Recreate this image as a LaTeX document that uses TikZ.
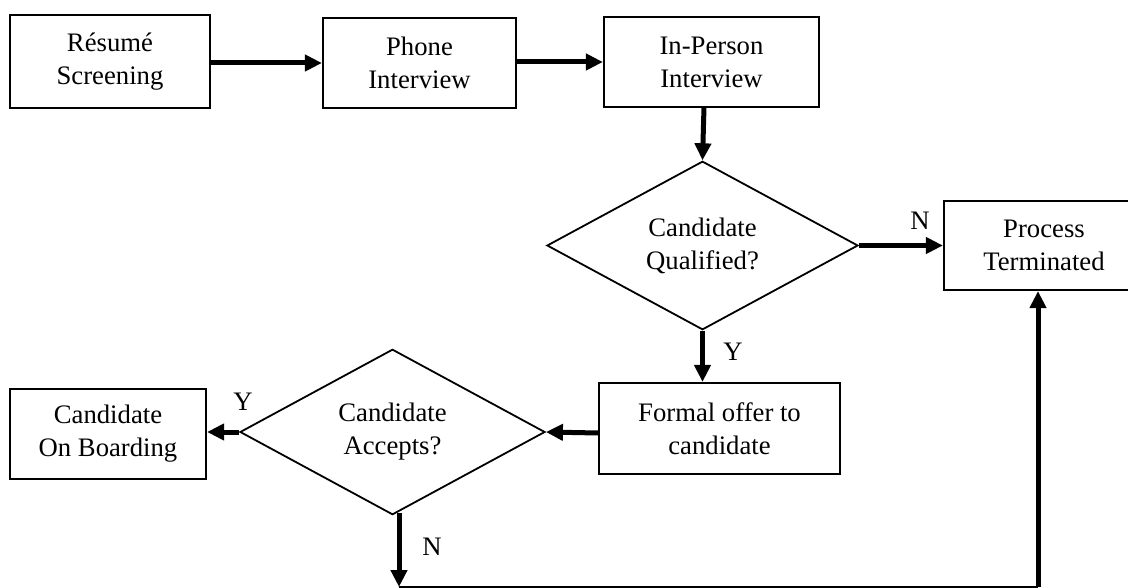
\documentclass[tikz,border=0pt]{standalone}
\usepackage{fontspec}
\setmainfont{Liberation Serif}
\usetikzlibrary{shapes.geometric,arrows.meta}
\begin{document}
\begin{tikzpicture}[x=1pt,y=-1pt,
  every node/.style={font=\fontsize{26.7}{33}\selectfont},
  procbox/.style={draw=black,line width=2.2pt,align=center,inner sep=0pt},
  decision/.style={draw=black,diamond,line width=1.8pt,align=center,inner sep=0pt},
  arr/.style={line width=5pt,-{Triangle[length=17pt,width=16pt]}},
  lbl/.style={inner sep=0pt}]
\useasboundingbox (0,0) rectangle (1128,588);
\clip (0,0) rectangle (1128,588);
\node[procbox,minimum width=200pt,minimum height=93pt] (res) at (110,61.5) {Résumé\\Screening};
\node[procbox,minimum width=193pt,minimum height=90pt] (phone) at (419.5,63) {Phone\\Interview};
\node[procbox,minimum width=215pt,minimum height=90pt] (inp) at (711.5,62) {In-Person\\Interview};
\node[decision,minimum width=311pt,minimum height=161pt] (qual) at (702.5,245.5) {Candidate\\Qualified?};
\node[procbox,minimum width=200pt,minimum height=89pt] (term) at (1044,245.5) {Process\\Terminated};
\node[procbox,minimum width=241pt,minimum height=91pt] (offer) at (719.5,428.5) {Formal offer to\\candidate};
\node[decision,minimum width=305pt,minimum height=162pt] (acc) at (392.5,432) {Candidate\\Accepts?};
\node[procbox,minimum width=196pt,minimum height=90pt] (onb) at (108,434) {Candidate\\On Boarding};
\coordinate (nA) at (399,513);
\coordinate (nB) at (399,587);
\coordinate (nC) at (1038,587);
\draw[arr] (res.east |- 0,63) -- (phone.west |- 0,63);
\draw[arr] (phone.east |- 0,62) -- (inp.west |- 0,62);
\draw[arr] (704,107) -- (qual.north);
\draw[arr] (qual.east) -- (term.west);
\draw[arr] (qual.south) -- (qual.south |- offer.north);
\draw[arr] (offer.west |- 0,433) -- (acc.east);
\draw[arr] (acc.west) -- (onb.east |- acc.west);
\draw[arr] (nA) -- (nB);
\draw[line width=3pt] (nB) -- (nC);
\draw[arr] (nC) -- (nC |- term.south);
\node[lbl] (lN1) at (920,221) {N};
\node[lbl] (lY1) at (733,352) {Y};
\node[lbl] (lY2) at (243,402) {Y};
\node[lbl] (lN2) at (432,547) {N};
\end{tikzpicture}
\end{document}
